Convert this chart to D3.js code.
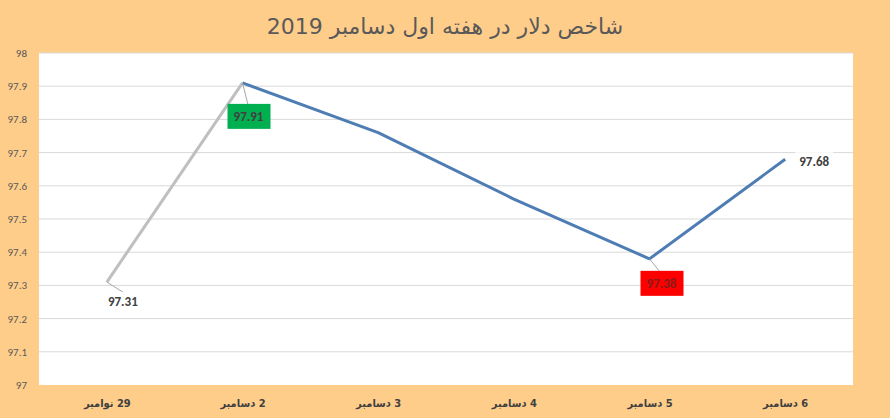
<!DOCTYPE html>
<html>
<head>
<meta charset="utf-8">
<script src="https://cdn.jsdelivr.net/npm/d3@7"></script>
<style>
  body { margin: 0; background: #FFCD8A; }
  svg { display: block; }
</style>
</head>
<body>
<div id="chart"></div>
<script>
// chart data
const categories = ['29 نوامبر', '2 دسامبر', '3 دسامبر', '4 دسامبر', '5 دسامبر', '6 دسامبر'];
const values = [97.31, 97.91, 97.76, 97.56, 97.38, 97.68];
const yTicks = [97, 97.1, 97.2, 97.3, 97.4, 97.5, 97.6, 97.7, 97.8, 97.9, 98];
const title = 'شاخص دلار در هفته اول دسامبر 2019';

const width = 890;
const height = 418;
const margin = {top: 53, right: 37, bottom: 33, left: 39};

const svg = d3.select('#chart')
  .append('svg')
  .attr('width', width)
  .attr('height', height);

svg.append('rect')
  .attr('width', width)
  .attr('height', height)
  .attr('fill', '#FFCD8A');

// plot area
svg.append('rect')
  .attr('x', margin.left)
  .attr('y', margin.top)
  .attr('width', width - margin.left - margin.right)
  .attr('height', height - margin.top - margin.bottom)
  .attr('fill', '#fff');

const x = d3.scalePoint()
  .domain(categories)
  .range([margin.left, width - margin.right])
  .padding(0.5);

const y = d3.scaleLinear()
  .domain([97, 98])
  .range([height - margin.bottom, margin.top]);

// gridlines
svg.append('g')
  .selectAll('line')
  .data(yTicks.slice(1))
  .enter()
  .append('line')
  .attr('x1', margin.left)
  .attr('x2', width - margin.right)
  .attr('y1', d => y(d))
  .attr('y2', d => y(d))
  .attr('stroke', '#D9D9D9')
  .attr('stroke-width', 1);

// y axis labels
const yAxis = d3.axisLeft(y)
  .tickValues(yTicks)
  .tickFormat(d => d3.format('')(+d.toFixed(1)))
  .tickSize(0)
  .tickPadding(12);

svg.append('g')
  .attr('transform', `translate(${margin.left},0)`)
  .call(yAxis)
  .call(g => g.select('.domain').remove())
  .selectAll('text')
  .attr('fill', '#595959')
  .style('font-family', 'Calibri, Carlito, "Liberation Sans", sans-serif')
  .style('font-size', '11px');

// x axis labels (right-to-left so the day number sits on the right)
const xAxis = d3.axisBottom(x).tickSize(0).tickPadding(14);
svg.append('g')
  .attr('transform', `translate(0,${height - margin.bottom})`)
  .call(xAxis)
  .call(g => g.select('.domain').remove())
  .selectAll('text')
  .attr('fill', '#404040')
  .attr('direction', 'rtl')
  .style('font-family', '"DejaVu Sans Condensed", "DejaVu Sans", sans-serif')
  .style('font-weight', 'bold')
  .style('font-size', '11px');

// lines: first segment grey, the rest blue
const pts = values.map((v, i) => [categories[i], v]);
const lineP = d3.line().x(d => x(d[0])).y(d => y(d[1]));

svg.append('path')
  .attr('d', lineP(pts.slice(0, 2)))
  .attr('fill', 'none')
  .attr('stroke', '#BFBFBF')
  .attr('stroke-width', 3)
  .attr('stroke-linejoin', 'round');

svg.append('path')
  .attr('d', lineP(pts.slice(1)))
  .attr('fill', 'none')
  .attr('stroke', '#4E7DB4')
  .attr('stroke-width', 3)
  .attr('stroke-linejoin', 'round');

// title
svg.append('text')
  .attr('x', width / 2)
  .attr('y', 34)
  .attr('text-anchor', 'middle')
  .attr('direction', 'rtl')
  .attr('fill', '#595959')
  .style('font-family', '"DejaVu Sans", sans-serif')
  .style('font-size', '22px')
  .text(title);

// data labels
const labelFont = 'Calibri, Carlito, "Liberation Sans", sans-serif';
const labels = [
  {i: 0, dx: 16, dy: 19, box: null, color: '#404040', leader: true},
  {i: 1, dx: 6, dy: 33, box: '#00B050', color: '#404040', leader: true},
  {i: 5, dx: 29, dy: 2, box: null, color: '#404040', leader: false},
  {i: 4, dx: 12, dy: 24, box: '#FF0000', color: '#8B1A1A', leader: true}
];

labels.forEach(l => {
  const px = x(categories[l.i]);
  const py = y(values[l.i]);
  const tx = px + l.dx;
  const ty = py + l.dy;
  const g = svg.append('g');
  if (l.leader) {
    g.append('line')
      .attr('x1', px).attr('y1', py)
      .attr('x2', tx).attr('y2', ty - 9)
      .attr('stroke', '#A6A6A6')
      .attr('stroke-width', 1);
  }
  if (l.box) {
    g.append('rect')
      .attr('x', tx - 21)
      .attr('y', ty - 12)
      .attr('width', 43)
      .attr('height', 25)
      .attr('fill', l.box);
  } else {
    g.append('rect')
      .attr('x', tx - 19)
      .attr('y', ty - 9)
      .attr('width', 38)
      .attr('height', 18)
      .attr('fill', '#fff');
  }
  g.append('text')
    .attr('x', tx)
    .attr('y', ty + 5)
    .attr('text-anchor', 'middle')
    .attr('fill', l.color)
    .style('font-family', labelFont)
    .style('font-weight', 'bold')
    .style('font-size', '13px')
    .text(values[l.i].toFixed(2));
});
</script>
</body>
</html>
